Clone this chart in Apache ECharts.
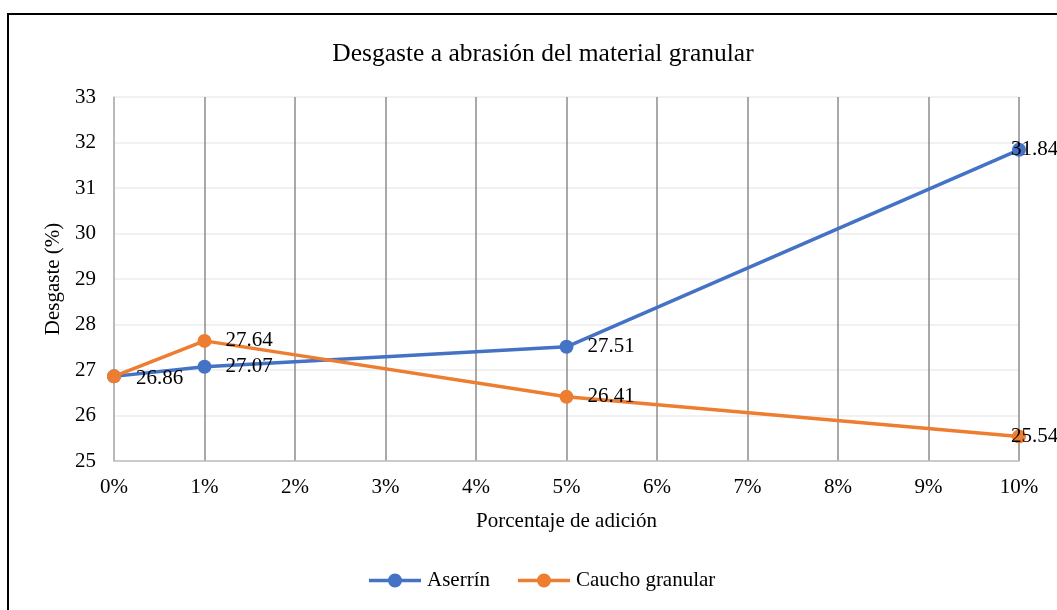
<!DOCTYPE html>
<html><head><meta charset="utf-8">
<script src="https://cdn.jsdelivr.net/npm/echarts@6/dist/echarts.min.js"></script>
<style>html,body{margin:0;padding:0;background:#fff}#c{width:1057px;height:610px}</style>
</head><body><div id="c"></div>
<script>
const xPercent = [0, 1, 5, 10];
const aserrin = [26.86, 27.07, 27.51, 31.84];
const caucho = [26.86, 27.64, 26.41, 25.54];
const seriesNames = ['Aserrín', 'Caucho granular'];
const titleText = 'Desgaste a abrasión del material granular';
const xTitle = 'Porcentaje de adición';
const yTitle = 'Desgaste (%)';

const font = 'Liberation Serif, Times New Roman, serif';
const FS = 21;
function pts(ys){ return xPercent.map((x,i)=>[x, ys[i]]); }
function labelFor(i, n, isFirstSeries){
  if (i === n-1) return {position:'inside', align:'left', offset:[-8,0]};
  if (i === 0) return isFirstSeries ? {position:'right', offset:[10,2]} : {show:false};
  return {position:'right', offset:[9,0]};
}
function mkData(ys, first){
  return pts(ys).map((p,i)=>({value:p, label:labelFor(i, ys.length, first)}));
}
const legendIcon = 'path://M0,4.25 H52 V7.75 H0 Z M19,6 A7,7 0 1,1 33,6 A7,7 0 1,1 19,6 Z';
const chart = echarts.init(document.getElementById('c'), null, {renderer:'canvas'});
chart.setOption({
  animation:false,
  textStyle:{fontFamily:font},
  title:{text:titleText, left:538, top:36, textAlign:'center',
    textStyle:{fontFamily:font, fontSize:25.5, fontWeight:'normal', color:'#000'}},
  graphic:[
    {type:'line', shape:{x1:7,y1:14,x2:1057,y2:14}, style:{stroke:'#000', lineWidth:2}, silent:true},
    {type:'line', shape:{x1:8,y1:13,x2:8,y2:610}, style:{stroke:'#000', lineWidth:2}, silent:true}
  ],
  grid:{left:114, right:38, top:97, bottom:149},
  legend:{bottom:14, left:364, itemWidth:52, itemHeight:14, itemGap:28,
    textStyle:{fontFamily:font, fontSize:FS, color:'#000', padding:[0,0,0,1]}, icon:legendIcon,
    data:seriesNames},
  xAxis:{type:'value', min:0, max:10, interval:1,
    name:xTitle, nameLocation:'middle', nameGap:50,
    nameTextStyle:{fontFamily:font, fontSize:FS, color:'#000'},
    axisLine:{show:true, lineStyle:{color:'#bfbfbf', width:1.5}},
    axisTick:{show:false},
    axisLabel:{formatter:v=>v+'%', fontFamily:font, fontSize:FS, color:'#000', margin:16},
    splitLine:{show:true, lineStyle:{color:'#8c8c8c', width:1.5}}},
  yAxis:{type:'value', min:25, max:33, interval:1,
    name:yTitle, nameLocation:'middle', nameGap:40, nameRotate:90,
    nameTextStyle:{fontFamily:font, fontSize:FS, color:'#000'},
    axisLine:{show:true, lineStyle:{color:'#bfbfbf', width:1.5}},
    axisTick:{show:false},
    axisLabel:{fontFamily:font, fontSize:FS, color:'#000', margin:18},
    splitLine:{show:true, lineStyle:{color:'#ececec', width:1.5}}},
  series:[
    {name:seriesNames[0], type:'line', data:mkData(aserrin, true), symbol:'circle', symbolSize:14,
      itemStyle:{color:'#4472C4'}, lineStyle:{color:'#4472C4', width:3.5},
      label:{show:true, fontFamily:font, fontSize:FS, color:'#000', formatter:p=>p.value[1].toFixed(2)}, z:2},
    {name:seriesNames[1], type:'line', data:mkData(caucho, false), symbol:'circle', symbolSize:14,
      itemStyle:{color:'#ED7D31'}, lineStyle:{color:'#ED7D31', width:3.5},
      label:{show:true, fontFamily:font, fontSize:FS, color:'#000', formatter:p=>p.value[1].toFixed(2)}, z:3}
  ]
});
</script></body></html>
